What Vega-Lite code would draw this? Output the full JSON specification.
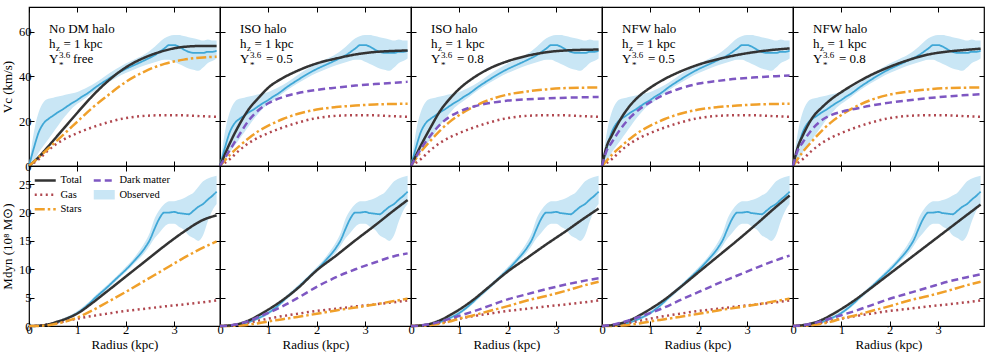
{
"$schema": "https://vega.github.io/schema/vega-lite/v6.json",
"padding": {"left": 0, "top": 5, "right": 2, "bottom": 1},
"config": {
 "font": "Liberation Serif",
 "view": {"stroke": "#000000", "strokeWidth": 1.2},
 "axis": {"domain": false, "grid": false, "tickColor": "#000000", "tickSize": -5, "tickWidth": 1, "labelFont": "Liberation Serif", "labelFontSize": 12.5, "labelColor": "#000000", "labelFlush": false, "labelOverlap": false, "titleFont": "Liberation Serif", "titleFontSize": 13, "titleFontWeight": "normal", "titleColor": "#000000"},
 "axisX": {"labelPadding": 2, "titlePadding": 3},
 "axisY": {"labelPadding": 3, "titlePadding": 4},
 "text": {"font": "Liberation Serif", "fontSize": 13, "align": "left", "baseline": "alphabetic", "color": "#000000"},
 "legend": {"orient": "none", "legendX": 11, "legendY": 168, "columns": 2, "symbolType": "stroke", "symbolSize": 441, "symbolStrokeWidth": 2.5, "labelFont": "Liberation Serif", "labelFontSize": 10.5, "labelColor": "#000000", "rowPadding": 3.5, "columnPadding": 6, "labelOffset": 10, "padding": 0}
},
"datasets": {
 "labels": [
  {"p": 1, "halo": "No DM halo", "ml": "free"},
  {"p": 2, "halo": "ISO halo", "ml": "= 0.5"},
  {"p": 3, "halo": "ISO halo", "ml": "= 0.8"},
  {"p": 4, "halo": "NFW halo", "ml": "= 0.5"},
  {"p": 5, "halo": "NFW halo", "ml": "= 0.8"}
 ],
 "obsV": [
  {"s":"Observed","r":0,"v":0,"lo":0,"hi":0},
  {"s":"Observed","r":0.1,"v":8,"lo":2,"hi":15},
  {"s":"Observed","r":0.2,"v":15,"lo":6,"hi":24},
  {"s":"Observed","r":0.3,"v":19,"lo":9,"hi":28.5},
  {"s":"Observed","r":0.4,"v":21,"lo":12,"hi":30},
  {"s":"Observed","r":0.5,"v":22.5,"lo":15,"hi":30.5},
  {"s":"Observed","r":0.6,"v":24,"lo":18,"hi":31},
  {"s":"Observed","r":0.7,"v":25.3,"lo":21,"hi":31.5},
  {"s":"Observed","r":0.8,"v":26.8,"lo":23.5,"hi":32},
  {"s":"Observed","r":0.9,"v":28.2,"lo":26,"hi":32.5},
  {"s":"Observed","r":1.0,"v":29.5,"lo":27.8,"hi":33},
  {"s":"Observed","r":1.1,"v":31,"lo":29.3,"hi":34},
  {"s":"Observed","r":1.2,"v":32.3,"lo":30.8,"hi":35},
  {"s":"Observed","r":1.4,"v":35.5,"lo":34,"hi":37.5},
  {"s":"Observed","r":1.6,"v":38.3,"lo":36.8,"hi":40.5},
  {"s":"Observed","r":1.8,"v":41,"lo":39.3,"hi":43.3},
  {"s":"Observed","r":2.0,"v":43.3,"lo":41.5,"hi":45.8},
  {"s":"Observed","r":2.2,"v":45.3,"lo":43.3,"hi":47.8},
  {"s":"Observed","r":2.4,"v":47.3,"lo":45,"hi":50},
  {"s":"Observed","r":2.6,"v":49.5,"lo":46.3,"hi":53.3},
  {"s":"Observed","r":2.8,"v":52.5,"lo":47.5,"hi":57},
  {"s":"Observed","r":2.9,"v":54,"lo":47.5,"hi":58},
  {"s":"Observed","r":3.0,"v":54,"lo":46.5,"hi":58.5},
  {"s":"Observed","r":3.1,"v":53.3,"lo":45.5,"hi":58.5},
  {"s":"Observed","r":3.2,"v":52,"lo":44.5,"hi":58},
  {"s":"Observed","r":3.3,"v":51,"lo":43.5,"hi":57.5},
  {"s":"Observed","r":3.4,"v":50.5,"lo":43,"hi":57},
  {"s":"Observed","r":3.5,"v":50.5,"lo":42.5,"hi":56.5},
  {"s":"Observed","r":3.6,"v":50.5,"lo":44,"hi":56},
  {"s":"Observed","r":3.7,"v":51,"lo":46,"hi":56.5},
  {"s":"Observed","r":3.8,"v":51,"lo":47,"hi":56},
  {"s":"Observed","r":3.88,"v":51.5,"lo":48,"hi":56}
 ],
 "obsM": [
  {"s":"Observed","r":0,"v":0,"lo":0,"hi":0},
  {"s":"Observed","r":0.2,"v":0.05,"lo":0,"hi":0.1},
  {"s":"Observed","r":0.4,"v":0.25,"lo":0.15,"hi":0.4},
  {"s":"Observed","r":0.6,"v":0.7,"lo":0.5,"hi":0.95},
  {"s":"Observed","r":0.8,"v":1.4,"lo":1.15,"hi":1.7},
  {"s":"Observed","r":1.0,"v":2.3,"lo":2.0,"hi":2.65},
  {"s":"Observed","r":1.2,"v":3.6,"lo":3.25,"hi":3.95},
  {"s":"Observed","r":1.4,"v":5.2,"lo":4.8,"hi":5.6},
  {"s":"Observed","r":1.6,"v":6.7,"lo":6.3,"hi":7.1},
  {"s":"Observed","r":1.8,"v":8.3,"lo":7.9,"hi":8.7},
  {"s":"Observed","r":2.0,"v":9.9,"lo":9.5,"hi":10.4},
  {"s":"Observed","r":2.2,"v":11.7,"lo":11.2,"hi":12.3},
  {"s":"Observed","r":2.4,"v":13.8,"lo":13,"hi":14.8},
  {"s":"Observed","r":2.5,"v":15.2,"lo":14.2,"hi":16.5},
  {"s":"Observed","r":2.6,"v":17.2,"lo":15.5,"hi":19},
  {"s":"Observed","r":2.7,"v":19,"lo":16.5,"hi":20.5},
  {"s":"Observed","r":2.8,"v":20,"lo":17.5,"hi":21.5},
  {"s":"Observed","r":2.9,"v":20,"lo":18,"hi":22},
  {"s":"Observed","r":3.0,"v":20.1,"lo":18,"hi":22},
  {"s":"Observed","r":3.1,"v":19.9,"lo":17.5,"hi":22.2},
  {"s":"Observed","r":3.2,"v":19.8,"lo":17,"hi":22.5},
  {"s":"Observed","r":3.3,"v":19.7,"lo":16,"hi":23},
  {"s":"Observed","r":3.4,"v":20.3,"lo":15.5,"hi":23.5},
  {"s":"Observed","r":3.5,"v":21,"lo":15,"hi":24.5},
  {"s":"Observed","r":3.6,"v":21.5,"lo":16,"hi":25.5},
  {"s":"Observed","r":3.7,"v":22.3,"lo":18.5,"hi":26},
  {"s":"Observed","r":3.8,"v":23,"lo":20.5,"hi":26.3},
  {"s":"Observed","r":3.88,"v":23.7,"lo":21.5,"hi":26.5}
 ],
 "vel": [
  {"p":0,"s":"Gas","r":0,"v":0},{"p":0,"s":"Gas","r":0.2,"v":3},{"p":0,"s":"Gas","r":0.4,"v":7},{"p":0,"s":"Gas","r":0.6,"v":10.3},{"p":0,"s":"Gas","r":0.8,"v":12.8},{"p":0,"s":"Gas","r":1,"v":14.7},{"p":0,"s":"Gas","r":1.3,"v":17.2},{"p":0,"s":"Gas","r":1.6,"v":19.3},{"p":0,"s":"Gas","r":2,"v":21.4},{"p":0,"s":"Gas","r":2.4,"v":22.4},{"p":0,"s":"Gas","r":2.8,"v":22.7},{"p":0,"s":"Gas","r":3.2,"v":22.6},{"p":0,"s":"Gas","r":3.6,"v":22.2},{"p":0,"s":"Gas","r":3.88,"v":22},
  {"p":1,"s":"Total","r":0,"v":0},{"p":1,"s":"Total","r":0.2,"v":4},{"p":1,"s":"Total","r":0.4,"v":8.8},{"p":1,"s":"Total","r":0.6,"v":13.8},{"p":1,"s":"Total","r":0.8,"v":18.8},{"p":1,"s":"Total","r":1,"v":23.8},{"p":1,"s":"Total","r":1.3,"v":31},{"p":1,"s":"Total","r":1.6,"v":37.3},{"p":1,"s":"Total","r":2,"v":44},{"p":1,"s":"Total","r":2.4,"v":48.5},{"p":1,"s":"Total","r":2.8,"v":51.5},{"p":1,"s":"Total","r":3.2,"v":53.2},{"p":1,"s":"Total","r":3.6,"v":53.6},{"p":1,"s":"Total","r":3.88,"v":53.6},
  {"p":1,"s":"Stars","r":0,"v":0},{"p":1,"s":"Stars","r":0.2,"v":3.8},{"p":1,"s":"Stars","r":0.4,"v":7.8},{"p":1,"s":"Stars","r":0.6,"v":11.8},{"p":1,"s":"Stars","r":0.8,"v":15.8},{"p":1,"s":"Stars","r":1,"v":19.8},{"p":1,"s":"Stars","r":1.3,"v":25.8},{"p":1,"s":"Stars","r":1.6,"v":31},{"p":1,"s":"Stars","r":2,"v":37.5},{"p":1,"s":"Stars","r":2.4,"v":42.3},{"p":1,"s":"Stars","r":2.8,"v":45.6},{"p":1,"s":"Stars","r":3.2,"v":47.5},{"p":1,"s":"Stars","r":3.6,"v":48.5},{"p":1,"s":"Stars","r":3.88,"v":48.8},
  {"p":24,"s":"Stars","r":0,"v":0},{"p":24,"s":"Stars","r":0.2,"v":4.9},{"p":24,"s":"Stars","r":0.4,"v":8.9},{"p":24,"s":"Stars","r":0.6,"v":12.5},{"p":24,"s":"Stars","r":0.8,"v":15.6},{"p":24,"s":"Stars","r":1,"v":18},{"p":24,"s":"Stars","r":1.3,"v":21},{"p":24,"s":"Stars","r":1.6,"v":23.2},{"p":24,"s":"Stars","r":2,"v":25.2},{"p":24,"s":"Stars","r":2.4,"v":26.3},{"p":24,"s":"Stars","r":2.8,"v":27},{"p":24,"s":"Stars","r":3.2,"v":27.5},{"p":24,"s":"Stars","r":3.6,"v":27.7},{"p":24,"s":"Stars","r":3.88,"v":27.8},
  {"p":35,"s":"Stars","r":0,"v":0},{"p":35,"s":"Stars","r":0.2,"v":6.2},{"p":35,"s":"Stars","r":0.4,"v":11.2},{"p":35,"s":"Stars","r":0.6,"v":15.8},{"p":35,"s":"Stars","r":0.8,"v":19.7},{"p":35,"s":"Stars","r":1,"v":22.8},{"p":35,"s":"Stars","r":1.3,"v":26.5},{"p":35,"s":"Stars","r":1.6,"v":29.4},{"p":35,"s":"Stars","r":2,"v":31.9},{"p":35,"s":"Stars","r":2.4,"v":33.3},{"p":35,"s":"Stars","r":2.8,"v":34.2},{"p":35,"s":"Stars","r":3.2,"v":34.8},{"p":35,"s":"Stars","r":3.6,"v":35},{"p":35,"s":"Stars","r":3.88,"v":35.1},
  {"p":2,"s":"Total","r":0,"v":0},{"p":2,"s":"Total","r":0.2,"v":10},{"p":2,"s":"Total","r":0.4,"v":18.5},{"p":2,"s":"Total","r":0.6,"v":25.5},{"p":2,"s":"Total","r":0.8,"v":30.5},{"p":2,"s":"Total","r":1,"v":35},{"p":2,"s":"Total","r":1.3,"v":39.3},{"p":2,"s":"Total","r":1.6,"v":42.5},{"p":2,"s":"Total","r":2,"v":45.8},{"p":2,"s":"Total","r":2.4,"v":48},{"p":2,"s":"Total","r":2.8,"v":49.8},{"p":2,"s":"Total","r":3.2,"v":50.9},{"p":2,"s":"Total","r":3.6,"v":51.4},{"p":2,"s":"Total","r":3.88,"v":51.6},
  {"p":2,"s":"Dark matter","r":0,"v":0},{"p":2,"s":"Dark matter","r":0.2,"v":7},{"p":2,"s":"Dark matter","r":0.4,"v":14},{"p":2,"s":"Dark matter","r":0.6,"v":20.5},{"p":2,"s":"Dark matter","r":0.8,"v":25},{"p":2,"s":"Dark matter","r":1,"v":28},{"p":2,"s":"Dark matter","r":1.3,"v":30.8},{"p":2,"s":"Dark matter","r":1.6,"v":32.5},{"p":2,"s":"Dark matter","r":2,"v":34},{"p":2,"s":"Dark matter","r":2.4,"v":35},{"p":2,"s":"Dark matter","r":2.8,"v":35.9},{"p":2,"s":"Dark matter","r":3.2,"v":36.6},{"p":2,"s":"Dark matter","r":3.6,"v":37.2},{"p":2,"s":"Dark matter","r":3.88,"v":37.6},
  {"p":3,"s":"Total","r":0,"v":0},{"p":3,"s":"Total","r":0.2,"v":9},{"p":3,"s":"Total","r":0.4,"v":17},{"p":3,"s":"Total","r":0.6,"v":24.5},{"p":3,"s":"Total","r":0.8,"v":30},{"p":3,"s":"Total","r":1,"v":34.5},{"p":3,"s":"Total","r":1.3,"v":39.5},{"p":3,"s":"Total","r":1.6,"v":43.3},{"p":3,"s":"Total","r":2,"v":46.8},{"p":3,"s":"Total","r":2.4,"v":49.2},{"p":3,"s":"Total","r":2.8,"v":50.8},{"p":3,"s":"Total","r":3.2,"v":51.6},{"p":3,"s":"Total","r":3.6,"v":51.9},{"p":3,"s":"Total","r":3.88,"v":52},
  {"p":3,"s":"Dark matter","r":0,"v":0},{"p":3,"s":"Dark matter","r":0.2,"v":7.5},{"p":3,"s":"Dark matter","r":0.4,"v":13.5},{"p":3,"s":"Dark matter","r":0.6,"v":18.5},{"p":3,"s":"Dark matter","r":0.8,"v":22},{"p":3,"s":"Dark matter","r":1,"v":24.3},{"p":3,"s":"Dark matter","r":1.3,"v":26.6},{"p":3,"s":"Dark matter","r":1.6,"v":28},{"p":3,"s":"Dark matter","r":2,"v":29.2},{"p":3,"s":"Dark matter","r":2.4,"v":29.8},{"p":3,"s":"Dark matter","r":2.8,"v":30.2},{"p":3,"s":"Dark matter","r":3.2,"v":30.5},{"p":3,"s":"Dark matter","r":3.6,"v":30.7},{"p":3,"s":"Dark matter","r":3.88,"v":30.8},
  {"p":4,"s":"Total","r":0,"v":0},{"p":4,"s":"Total","r":0.1,"v":9},{"p":4,"s":"Total","r":0.2,"v":13.5},{"p":4,"s":"Total","r":0.4,"v":21.5},{"p":4,"s":"Total","r":0.6,"v":27.5},{"p":4,"s":"Total","r":0.8,"v":31.8},{"p":4,"s":"Total","r":1,"v":35},{"p":4,"s":"Total","r":1.3,"v":38.9},{"p":4,"s":"Total","r":1.6,"v":42},{"p":4,"s":"Total","r":2,"v":45.3},{"p":4,"s":"Total","r":2.4,"v":47.7},{"p":4,"s":"Total","r":2.8,"v":49.6},{"p":4,"s":"Total","r":3.2,"v":51},{"p":4,"s":"Total","r":3.6,"v":52},{"p":4,"s":"Total","r":3.88,"v":52.5},
  {"p":4,"s":"Dark matter","r":0,"v":0},{"p":4,"s":"Dark matter","r":0.1,"v":7},{"p":4,"s":"Dark matter","r":0.2,"v":10.5},{"p":4,"s":"Dark matter","r":0.4,"v":17},{"p":4,"s":"Dark matter","r":0.6,"v":22},{"p":4,"s":"Dark matter","r":0.8,"v":25.8},{"p":4,"s":"Dark matter","r":1,"v":28.5},{"p":4,"s":"Dark matter","r":1.3,"v":32},{"p":4,"s":"Dark matter","r":1.6,"v":34.5},{"p":4,"s":"Dark matter","r":2,"v":36.8},{"p":4,"s":"Dark matter","r":2.4,"v":38},{"p":4,"s":"Dark matter","r":2.8,"v":39},{"p":4,"s":"Dark matter","r":3.2,"v":39.6},{"p":4,"s":"Dark matter","r":3.6,"v":40.1},{"p":4,"s":"Dark matter","r":3.88,"v":40.4},
  {"p":5,"s":"Total","r":0,"v":0},{"p":5,"s":"Total","r":0.1,"v":8.5},{"p":5,"s":"Total","r":0.2,"v":13.5},{"p":5,"s":"Total","r":0.4,"v":21.5},{"p":5,"s":"Total","r":0.6,"v":26.2},{"p":5,"s":"Total","r":0.8,"v":30},{"p":5,"s":"Total","r":1,"v":33},{"p":5,"s":"Total","r":1.3,"v":37},{"p":5,"s":"Total","r":1.6,"v":40.5},{"p":5,"s":"Total","r":2,"v":44.3},{"p":5,"s":"Total","r":2.4,"v":47.4},{"p":5,"s":"Total","r":2.8,"v":49.8},{"p":5,"s":"Total","r":3.2,"v":51.1},{"p":5,"s":"Total","r":3.6,"v":51.9},{"p":5,"s":"Total","r":3.88,"v":52.4},
  {"p":5,"s":"Dark matter","r":0,"v":0},{"p":5,"s":"Dark matter","r":0.1,"v":7},{"p":5,"s":"Dark matter","r":0.2,"v":10.5},{"p":5,"s":"Dark matter","r":0.4,"v":16.5},{"p":5,"s":"Dark matter","r":0.6,"v":20.5},{"p":5,"s":"Dark matter","r":0.8,"v":22.8},{"p":5,"s":"Dark matter","r":1,"v":24.2},{"p":5,"s":"Dark matter","r":1.3,"v":25.6},{"p":5,"s":"Dark matter","r":1.6,"v":26.9},{"p":5,"s":"Dark matter","r":2,"v":28.3},{"p":5,"s":"Dark matter","r":2.4,"v":29.4},{"p":5,"s":"Dark matter","r":2.8,"v":30.3},{"p":5,"s":"Dark matter","r":3.2,"v":31.1},{"p":5,"s":"Dark matter","r":3.6,"v":31.7},{"p":5,"s":"Dark matter","r":3.88,"v":32.1}
 ],
 "mass": [
  {"p":0,"s":"Gas","r":0,"v":0},{"p":0,"s":"Gas","r":0.2,"v":0.08},{"p":0,"s":"Gas","r":0.4,"v":0.3},{"p":0,"s":"Gas","r":0.6,"v":0.6},{"p":0,"s":"Gas","r":0.8,"v":0.95},{"p":0,"s":"Gas","r":1,"v":1.3},{"p":0,"s":"Gas","r":1.3,"v":1.75},{"p":0,"s":"Gas","r":1.6,"v":2.15},{"p":0,"s":"Gas","r":2,"v":2.65},{"p":0,"s":"Gas","r":2.4,"v":3.05},{"p":0,"s":"Gas","r":2.8,"v":3.45},{"p":0,"s":"Gas","r":3.2,"v":3.8},{"p":0,"s":"Gas","r":3.6,"v":4.2},{"p":0,"s":"Gas","r":3.88,"v":4.5},
  {"p":1,"s":"Total","r":0,"v":0},{"p":1,"s":"Total","r":0.2,"v":0.05},{"p":1,"s":"Total","r":0.4,"v":0.3},{"p":1,"s":"Total","r":0.6,"v":0.8},{"p":1,"s":"Total","r":0.8,"v":1.4},{"p":1,"s":"Total","r":1,"v":2.2},{"p":1,"s":"Total","r":1.3,"v":4},{"p":1,"s":"Total","r":1.6,"v":6},{"p":1,"s":"Total","r":2,"v":8.7},{"p":1,"s":"Total","r":2.4,"v":11.4},{"p":1,"s":"Total","r":2.8,"v":14.1},{"p":1,"s":"Total","r":3.2,"v":16.6},{"p":1,"s":"Total","r":3.6,"v":18.7},{"p":1,"s":"Total","r":3.88,"v":19.5},
  {"p":1,"s":"Stars","r":0,"v":0},{"p":1,"s":"Stars","r":0.2,"v":0.02},{"p":1,"s":"Stars","r":0.4,"v":0.15},{"p":1,"s":"Stars","r":0.6,"v":0.45},{"p":1,"s":"Stars","r":0.8,"v":0.9},{"p":1,"s":"Stars","r":1,"v":1.5},{"p":1,"s":"Stars","r":1.3,"v":2.7},{"p":1,"s":"Stars","r":1.6,"v":4.1},{"p":1,"s":"Stars","r":2,"v":6},{"p":1,"s":"Stars","r":2.4,"v":8},{"p":1,"s":"Stars","r":2.8,"v":10},{"p":1,"s":"Stars","r":3.2,"v":12},{"p":1,"s":"Stars","r":3.6,"v":13.8},{"p":1,"s":"Stars","r":3.88,"v":14.9},
  {"p":24,"s":"Stars","r":0,"v":0},{"p":24,"s":"Stars","r":0.2,"v":0.02},{"p":24,"s":"Stars","r":0.4,"v":0.1},{"p":24,"s":"Stars","r":0.6,"v":0.25},{"p":24,"s":"Stars","r":0.8,"v":0.5},{"p":24,"s":"Stars","r":1,"v":0.8},{"p":24,"s":"Stars","r":1.3,"v":1.2},{"p":24,"s":"Stars","r":1.6,"v":1.6},{"p":24,"s":"Stars","r":2,"v":2.15},{"p":24,"s":"Stars","r":2.4,"v":2.75},{"p":24,"s":"Stars","r":2.8,"v":3.25},{"p":24,"s":"Stars","r":3.2,"v":3.8},{"p":24,"s":"Stars","r":3.6,"v":4.4},{"p":24,"s":"Stars","r":3.88,"v":4.8},
  {"p":35,"s":"Stars","r":0,"v":0},{"p":35,"s":"Stars","r":0.2,"v":0.03},{"p":35,"s":"Stars","r":0.4,"v":0.16},{"p":35,"s":"Stars","r":0.6,"v":0.4},{"p":35,"s":"Stars","r":0.8,"v":0.8},{"p":35,"s":"Stars","r":1,"v":1.3},{"p":35,"s":"Stars","r":1.3,"v":1.9},{"p":35,"s":"Stars","r":1.6,"v":2.6},{"p":35,"s":"Stars","r":2,"v":3.5},{"p":35,"s":"Stars","r":2.4,"v":4.5},{"p":35,"s":"Stars","r":2.8,"v":5.3},{"p":35,"s":"Stars","r":3.2,"v":6.2},{"p":35,"s":"Stars","r":3.6,"v":7.2},{"p":35,"s":"Stars","r":3.88,"v":7.8},
  {"p":2,"s":"Total","r":0,"v":0},{"p":2,"s":"Total","r":0.2,"v":0.1},{"p":2,"s":"Total","r":0.4,"v":0.4},{"p":2,"s":"Total","r":0.6,"v":1},{"p":2,"s":"Total","r":0.8,"v":1.9},{"p":2,"s":"Total","r":1,"v":2.9},{"p":2,"s":"Total","r":1.3,"v":4.6},{"p":2,"s":"Total","r":1.6,"v":6.6},{"p":2,"s":"Total","r":2,"v":9.8},{"p":2,"s":"Total","r":2.4,"v":12.4},{"p":2,"s":"Total","r":2.8,"v":15.1},{"p":2,"s":"Total","r":3.2,"v":17.7},{"p":2,"s":"Total","r":3.6,"v":20.4},{"p":2,"s":"Total","r":3.88,"v":22.2},
  {"p":2,"s":"Dark matter","r":0,"v":0},{"p":2,"s":"Dark matter","r":0.2,"v":0.1},{"p":2,"s":"Dark matter","r":0.4,"v":0.4},{"p":2,"s":"Dark matter","r":0.6,"v":0.9},{"p":2,"s":"Dark matter","r":0.8,"v":1.6},{"p":2,"s":"Dark matter","r":1,"v":2.3},{"p":2,"s":"Dark matter","r":1.3,"v":3.5},{"p":2,"s":"Dark matter","r":1.6,"v":4.9},{"p":2,"s":"Dark matter","r":2,"v":6.9},{"p":2,"s":"Dark matter","r":2.4,"v":8.6},{"p":2,"s":"Dark matter","r":2.8,"v":10},{"p":2,"s":"Dark matter","r":3.2,"v":11.2},{"p":2,"s":"Dark matter","r":3.6,"v":12.3},{"p":2,"s":"Dark matter","r":3.88,"v":12.8},
  {"p":3,"s":"Total","r":0,"v":0},{"p":3,"s":"Total","r":0.2,"v":0.1},{"p":3,"s":"Total","r":0.4,"v":0.4},{"p":3,"s":"Total","r":0.6,"v":1},{"p":3,"s":"Total","r":0.8,"v":1.9},{"p":3,"s":"Total","r":1,"v":2.9},{"p":3,"s":"Total","r":1.3,"v":4.7},{"p":3,"s":"Total","r":1.6,"v":6.8},{"p":3,"s":"Total","r":2,"v":9.6},{"p":3,"s":"Total","r":2.4,"v":12},{"p":3,"s":"Total","r":2.8,"v":14.4},{"p":3,"s":"Total","r":3.2,"v":16.7},{"p":3,"s":"Total","r":3.6,"v":19.1},{"p":3,"s":"Total","r":3.88,"v":20.7},
  {"p":3,"s":"Dark matter","r":0,"v":0},{"p":3,"s":"Dark matter","r":0.2,"v":0.1},{"p":3,"s":"Dark matter","r":0.4,"v":0.35},{"p":3,"s":"Dark matter","r":0.6,"v":0.75},{"p":3,"s":"Dark matter","r":0.8,"v":1.25},{"p":3,"s":"Dark matter","r":1,"v":1.8},{"p":3,"s":"Dark matter","r":1.3,"v":2.6},{"p":3,"s":"Dark matter","r":1.6,"v":3.5},{"p":3,"s":"Dark matter","r":2,"v":4.7},{"p":3,"s":"Dark matter","r":2.4,"v":5.6},{"p":3,"s":"Dark matter","r":2.8,"v":6.5},{"p":3,"s":"Dark matter","r":3.2,"v":7.3},{"p":3,"s":"Dark matter","r":3.6,"v":8},{"p":3,"s":"Dark matter","r":3.88,"v":8.4},
  {"p":4,"s":"Total","r":0,"v":0},{"p":4,"s":"Total","r":0.2,"v":0.15},{"p":4,"s":"Total","r":0.4,"v":0.5},{"p":4,"s":"Total","r":0.6,"v":1.1},{"p":4,"s":"Total","r":0.8,"v":2},{"p":4,"s":"Total","r":1,"v":3},{"p":4,"s":"Total","r":1.3,"v":4.7},{"p":4,"s":"Total","r":1.6,"v":6.7},{"p":4,"s":"Total","r":2,"v":9.5},{"p":4,"s":"Total","r":2.4,"v":12.3},{"p":4,"s":"Total","r":2.8,"v":15.1},{"p":4,"s":"Total","r":3.2,"v":18},{"p":4,"s":"Total","r":3.6,"v":21},{"p":4,"s":"Total","r":3.88,"v":23},
  {"p":4,"s":"Dark matter","r":0,"v":0},{"p":4,"s":"Dark matter","r":0.2,"v":0.2},{"p":4,"s":"Dark matter","r":0.4,"v":0.6},{"p":4,"s":"Dark matter","r":0.6,"v":1.1},{"p":4,"s":"Dark matter","r":0.8,"v":1.7},{"p":4,"s":"Dark matter","r":1,"v":2.3},{"p":4,"s":"Dark matter","r":1.3,"v":3.3},{"p":4,"s":"Dark matter","r":1.6,"v":4.5},{"p":4,"s":"Dark matter","r":2,"v":6},{"p":4,"s":"Dark matter","r":2.4,"v":7.5},{"p":4,"s":"Dark matter","r":2.8,"v":8.9},{"p":4,"s":"Dark matter","r":3.2,"v":10.3},{"p":4,"s":"Dark matter","r":3.6,"v":11.6},{"p":4,"s":"Dark matter","r":3.88,"v":12.4},
  {"p":5,"s":"Total","r":0,"v":0},{"p":5,"s":"Total","r":0.2,"v":0.15},{"p":5,"s":"Total","r":0.4,"v":0.5},{"p":5,"s":"Total","r":0.6,"v":1.1},{"p":5,"s":"Total","r":0.8,"v":2},{"p":5,"s":"Total","r":1,"v":3},{"p":5,"s":"Total","r":1.3,"v":4.7},{"p":5,"s":"Total","r":1.6,"v":6.6},{"p":5,"s":"Total","r":2,"v":9.2},{"p":5,"s":"Total","r":2.4,"v":11.8},{"p":5,"s":"Total","r":2.8,"v":14.4},{"p":5,"s":"Total","r":3.2,"v":17},{"p":5,"s":"Total","r":3.6,"v":19.6},{"p":5,"s":"Total","r":3.88,"v":21.4},
  {"p":5,"s":"Dark matter","r":0,"v":0},{"p":5,"s":"Dark matter","r":0.2,"v":0.15},{"p":5,"s":"Dark matter","r":0.4,"v":0.45},{"p":5,"s":"Dark matter","r":0.6,"v":0.9},{"p":5,"s":"Dark matter","r":0.8,"v":1.4},{"p":5,"s":"Dark matter","r":1,"v":1.9},{"p":5,"s":"Dark matter","r":1.3,"v":2.7},{"p":5,"s":"Dark matter","r":1.6,"v":3.6},{"p":5,"s":"Dark matter","r":2,"v":4.8},{"p":5,"s":"Dark matter","r":2.4,"v":5.8},{"p":5,"s":"Dark matter","r":2.8,"v":6.8},{"p":5,"s":"Dark matter","r":3.2,"v":7.8},{"p":5,"s":"Dark matter","r":3.6,"v":8.6},{"p":5,"s":"Dark matter","r":3.88,"v":9.1}
 ]
},
"columns": 5,
"spacing": 0,
"bounds": "flush",
"concat": [
  {"width": 191, "height": 159, "resolve": {"axis": {"x": "independent", "y": "independent"}}, "layer": [
   {"data": {"name": "obsV"}, "mark": {"type": "area", "color": "#c9e6f5", "interpolate": "monotone"}, "encoding": {"x": {"field": "r", "type": "quantitative", "scale": {"domain": [0, 3.95], "nice": false, "zero": false}, "axis": {"orient": "bottom", "values": [0,1,2,3], "labels": false, "title": null}}, "y": {"field": "lo", "type": "quantitative", "scale": {"domain": [0, 71], "nice": false}, "axis": {"orient": "left", "values": [0,20,40,60], "title": "Vc (km/s)"}}, "y2": {"field": "hi"}}},
   {"data": {"name": "obsV"}, "mark": {"type": "line", "strokeWidth": 1.8, "interpolate": "monotone"}, "encoding": {"x": {"field": "r", "type": "quantitative", "axis": {"orient": "top", "values": [0,1,2,3], "labels": false, "title": null}}, "y": {"field": "v", "type": "quantitative", "axis": {"orient": "right", "values": [0,20,40,60], "labels": false, "title": null}}, "color": {"field": "s", "type": "nominal", "scale": {"domain": ["Total","Gas","Stars","Dark matter","Observed"], "range": ["#333333","#b0474f","#f0a02a","#7e57c2","#3fa7d6"]}, "legend": {"title": null}}, "strokeDash": {"field": "s", "type": "nominal", "scale": {"domain": ["Total","Gas","Stars","Dark matter","Observed"], "range": [[1,0],[2,3.5],[10,3,2.5,3],[7,4],[1,0]]}, "legend": {"title": null}}}},
   {"data": {"name": "vel"}, "transform": [{"filter": "datum.p == 1 || datum.p == 0"}], "mark": {"type": "line", "strokeWidth": 2.5, "interpolate": "monotone"}, "encoding": {"x": {"field": "r", "type": "quantitative", "axis": null}, "y": {"field": "v", "type": "quantitative", "axis": null}, "color": {"field": "s", "type": "nominal", "legend": {"title": null}}, "strokeDash": {"field": "s", "type": "nominal", "legend": {"title": null}}}},
   {"data": {"name": "labels"}, "transform": [{"filter": "datum.p == 1"}], "mark": {"type": "text"}, "encoding": {"x": {"datum": 0.414, "type": "quantitative", "axis": null}, "y": {"datum": 59.2, "type": "quantitative", "axis": null}, "text": {"field": "halo"}}},
   {"data": {"name": "labels"}, "transform": [{"filter": "datum.p == 1"}], "mark": {"type": "text", "text": ["h", "Υ"], "dy": 15, "lineHeight": 15}, "encoding": {"x": {"datum": 0.414, "type": "quantitative", "axis": null}, "y": {"datum": 59.2, "type": "quantitative", "axis": null}}},
   {"data": {"name": "labels"}, "transform": [{"filter": "datum.p == 1"}], "mark": {"type": "text", "text": "z", "fontSize": 9, "dx": 7, "dy": 18}, "encoding": {"x": {"datum": 0.414, "type": "quantitative", "axis": null}, "y": {"datum": 59.2, "type": "quantitative", "axis": null}}},
   {"data": {"name": "labels"}, "transform": [{"filter": "datum.p == 1"}], "mark": {"type": "text", "text": ["3.6", "*"], "fontSize": 9, "lineHeight": 10, "dx": 10, "dy": 24.5}, "encoding": {"x": {"datum": 0.414, "type": "quantitative", "axis": null}, "y": {"datum": 59.2, "type": "quantitative", "axis": null}}},
   {"data": {"name": "labels"}, "transform": [{"filter": "datum.p == 1"}], "mark": {"type": "text", "text": "= 1 kpc", "dx": 14.5, "dy": 15}, "encoding": {"x": {"datum": 0.414, "type": "quantitative", "axis": null}, "y": {"datum": 59.2, "type": "quantitative", "axis": null}}},
   {"data": {"name": "labels"}, "transform": [{"filter": "datum.p == 1"}], "mark": {"type": "text", "dx": 24, "dy": 30}, "encoding": {"x": {"datum": 0.414, "type": "quantitative", "axis": null}, "y": {"datum": 59.2, "type": "quantitative", "axis": null}, "text": {"field": "ml"}}}
  ]},
  {"width": 191, "height": 159, "resolve": {"axis": {"x": "independent", "y": "independent"}}, "layer": [
   {"data": {"name": "obsV"}, "mark": {"type": "area", "color": "#c9e6f5", "interpolate": "monotone"}, "encoding": {"x": {"field": "r", "type": "quantitative", "scale": {"domain": [0, 3.95], "nice": false, "zero": false}, "axis": {"orient": "bottom", "values": [0,1,2,3], "labels": false, "title": null}}, "y": {"field": "lo", "type": "quantitative", "scale": {"domain": [0, 71], "nice": false}, "axis": {"orient": "left", "values": [0,20,40,60], "labels": false, "title": null}}, "y2": {"field": "hi"}}},
   {"data": {"name": "obsV"}, "mark": {"type": "line", "strokeWidth": 1.8, "interpolate": "monotone"}, "encoding": {"x": {"field": "r", "type": "quantitative", "axis": {"orient": "top", "values": [0,1,2,3], "labels": false, "title": null}}, "y": {"field": "v", "type": "quantitative", "axis": {"orient": "right", "values": [0,20,40,60], "labels": false, "title": null}}, "color": {"field": "s", "type": "nominal", "legend": {"title": null}}, "strokeDash": {"field": "s", "type": "nominal", "legend": {"title": null}}}},
   {"data": {"name": "vel"}, "transform": [{"filter": "datum.p == 2 || datum.p == 0 || datum.p == 24"}], "mark": {"type": "line", "strokeWidth": 2.5, "interpolate": "monotone"}, "encoding": {"x": {"field": "r", "type": "quantitative", "axis": null}, "y": {"field": "v", "type": "quantitative", "axis": null}, "color": {"field": "s", "type": "nominal", "legend": {"title": null}}, "strokeDash": {"field": "s", "type": "nominal", "legend": {"title": null}}}},
   {"data": {"name": "labels"}, "transform": [{"filter": "datum.p == 2"}], "mark": {"type": "text"}, "encoding": {"x": {"datum": 0.414, "type": "quantitative", "axis": null}, "y": {"datum": 59.2, "type": "quantitative", "axis": null}, "text": {"field": "halo"}}},
   {"data": {"name": "labels"}, "transform": [{"filter": "datum.p == 2"}], "mark": {"type": "text", "text": ["h", "Υ"], "dy": 15, "lineHeight": 15}, "encoding": {"x": {"datum": 0.414, "type": "quantitative", "axis": null}, "y": {"datum": 59.2, "type": "quantitative", "axis": null}}},
   {"data": {"name": "labels"}, "transform": [{"filter": "datum.p == 2"}], "mark": {"type": "text", "text": "z", "fontSize": 9, "dx": 7, "dy": 18}, "encoding": {"x": {"datum": 0.414, "type": "quantitative", "axis": null}, "y": {"datum": 59.2, "type": "quantitative", "axis": null}}},
   {"data": {"name": "labels"}, "transform": [{"filter": "datum.p == 2"}], "mark": {"type": "text", "text": ["3.6", "*"], "fontSize": 9, "lineHeight": 10, "dx": 10, "dy": 24.5}, "encoding": {"x": {"datum": 0.414, "type": "quantitative", "axis": null}, "y": {"datum": 59.2, "type": "quantitative", "axis": null}}},
   {"data": {"name": "labels"}, "transform": [{"filter": "datum.p == 2"}], "mark": {"type": "text", "text": "= 1 kpc", "dx": 14.5, "dy": 15}, "encoding": {"x": {"datum": 0.414, "type": "quantitative", "axis": null}, "y": {"datum": 59.2, "type": "quantitative", "axis": null}}},
   {"data": {"name": "labels"}, "transform": [{"filter": "datum.p == 2"}], "mark": {"type": "text", "dx": 26, "dy": 30}, "encoding": {"x": {"datum": 0.414, "type": "quantitative", "axis": null}, "y": {"datum": 59.2, "type": "quantitative", "axis": null}, "text": {"field": "ml"}}}
  ]},
  {"width": 191, "height": 159, "resolve": {"axis": {"x": "independent", "y": "independent"}}, "layer": [
   {"data": {"name": "obsV"}, "mark": {"type": "area", "color": "#c9e6f5", "interpolate": "monotone"}, "encoding": {"x": {"field": "r", "type": "quantitative", "scale": {"domain": [0, 3.95], "nice": false, "zero": false}, "axis": {"orient": "bottom", "values": [0,1,2,3], "labels": false, "title": null}}, "y": {"field": "lo", "type": "quantitative", "scale": {"domain": [0, 71], "nice": false}, "axis": {"orient": "left", "values": [0,20,40,60], "labels": false, "title": null}}, "y2": {"field": "hi"}}},
   {"data": {"name": "obsV"}, "mark": {"type": "line", "strokeWidth": 1.8, "interpolate": "monotone"}, "encoding": {"x": {"field": "r", "type": "quantitative", "axis": {"orient": "top", "values": [0,1,2,3], "labels": false, "title": null}}, "y": {"field": "v", "type": "quantitative", "axis": {"orient": "right", "values": [0,20,40,60], "labels": false, "title": null}}, "color": {"field": "s", "type": "nominal", "legend": {"title": null}}, "strokeDash": {"field": "s", "type": "nominal", "legend": {"title": null}}}},
   {"data": {"name": "vel"}, "transform": [{"filter": "datum.p == 3 || datum.p == 0 || datum.p == 35"}], "mark": {"type": "line", "strokeWidth": 2.5, "interpolate": "monotone"}, "encoding": {"x": {"field": "r", "type": "quantitative", "axis": null}, "y": {"field": "v", "type": "quantitative", "axis": null}, "color": {"field": "s", "type": "nominal", "legend": {"title": null}}, "strokeDash": {"field": "s", "type": "nominal", "legend": {"title": null}}}},
   {"data": {"name": "labels"}, "transform": [{"filter": "datum.p == 3"}], "mark": {"type": "text"}, "encoding": {"x": {"datum": 0.414, "type": "quantitative", "axis": null}, "y": {"datum": 59.2, "type": "quantitative", "axis": null}, "text": {"field": "halo"}}},
   {"data": {"name": "labels"}, "transform": [{"filter": "datum.p == 3"}], "mark": {"type": "text", "text": ["h", "Υ"], "dy": 15, "lineHeight": 15}, "encoding": {"x": {"datum": 0.414, "type": "quantitative", "axis": null}, "y": {"datum": 59.2, "type": "quantitative", "axis": null}}},
   {"data": {"name": "labels"}, "transform": [{"filter": "datum.p == 3"}], "mark": {"type": "text", "text": "z", "fontSize": 9, "dx": 7, "dy": 18}, "encoding": {"x": {"datum": 0.414, "type": "quantitative", "axis": null}, "y": {"datum": 59.2, "type": "quantitative", "axis": null}}},
   {"data": {"name": "labels"}, "transform": [{"filter": "datum.p == 3"}], "mark": {"type": "text", "text": ["3.6", "*"], "fontSize": 9, "lineHeight": 10, "dx": 10, "dy": 24.5}, "encoding": {"x": {"datum": 0.414, "type": "quantitative", "axis": null}, "y": {"datum": 59.2, "type": "quantitative", "axis": null}}},
   {"data": {"name": "labels"}, "transform": [{"filter": "datum.p == 3"}], "mark": {"type": "text", "text": "= 1 kpc", "dx": 14.5, "dy": 15}, "encoding": {"x": {"datum": 0.414, "type": "quantitative", "axis": null}, "y": {"datum": 59.2, "type": "quantitative", "axis": null}}},
   {"data": {"name": "labels"}, "transform": [{"filter": "datum.p == 3"}], "mark": {"type": "text", "dx": 26, "dy": 30}, "encoding": {"x": {"datum": 0.414, "type": "quantitative", "axis": null}, "y": {"datum": 59.2, "type": "quantitative", "axis": null}, "text": {"field": "ml"}}}
  ]},
  {"width": 191, "height": 159, "resolve": {"axis": {"x": "independent", "y": "independent"}}, "layer": [
   {"data": {"name": "obsV"}, "mark": {"type": "area", "color": "#c9e6f5", "interpolate": "monotone"}, "encoding": {"x": {"field": "r", "type": "quantitative", "scale": {"domain": [0, 3.95], "nice": false, "zero": false}, "axis": {"orient": "bottom", "values": [0,1,2,3], "labels": false, "title": null}}, "y": {"field": "lo", "type": "quantitative", "scale": {"domain": [0, 71], "nice": false}, "axis": {"orient": "left", "values": [0,20,40,60], "labels": false, "title": null}}, "y2": {"field": "hi"}}},
   {"data": {"name": "obsV"}, "mark": {"type": "line", "strokeWidth": 1.8, "interpolate": "monotone"}, "encoding": {"x": {"field": "r", "type": "quantitative", "axis": {"orient": "top", "values": [0,1,2,3], "labels": false, "title": null}}, "y": {"field": "v", "type": "quantitative", "axis": {"orient": "right", "values": [0,20,40,60], "labels": false, "title": null}}, "color": {"field": "s", "type": "nominal", "legend": {"title": null}}, "strokeDash": {"field": "s", "type": "nominal", "legend": {"title": null}}}},
   {"data": {"name": "vel"}, "transform": [{"filter": "datum.p == 4 || datum.p == 0 || datum.p == 24"}], "mark": {"type": "line", "strokeWidth": 2.5, "interpolate": "monotone"}, "encoding": {"x": {"field": "r", "type": "quantitative", "axis": null}, "y": {"field": "v", "type": "quantitative", "axis": null}, "color": {"field": "s", "type": "nominal", "legend": {"title": null}}, "strokeDash": {"field": "s", "type": "nominal", "legend": {"title": null}}}},
   {"data": {"name": "labels"}, "transform": [{"filter": "datum.p == 4"}], "mark": {"type": "text"}, "encoding": {"x": {"datum": 0.414, "type": "quantitative", "axis": null}, "y": {"datum": 59.2, "type": "quantitative", "axis": null}, "text": {"field": "halo"}}},
   {"data": {"name": "labels"}, "transform": [{"filter": "datum.p == 4"}], "mark": {"type": "text", "text": ["h", "Υ"], "dy": 15, "lineHeight": 15}, "encoding": {"x": {"datum": 0.414, "type": "quantitative", "axis": null}, "y": {"datum": 59.2, "type": "quantitative", "axis": null}}},
   {"data": {"name": "labels"}, "transform": [{"filter": "datum.p == 4"}], "mark": {"type": "text", "text": "z", "fontSize": 9, "dx": 7, "dy": 18}, "encoding": {"x": {"datum": 0.414, "type": "quantitative", "axis": null}, "y": {"datum": 59.2, "type": "quantitative", "axis": null}}},
   {"data": {"name": "labels"}, "transform": [{"filter": "datum.p == 4"}], "mark": {"type": "text", "text": ["3.6", "*"], "fontSize": 9, "lineHeight": 10, "dx": 10, "dy": 24.5}, "encoding": {"x": {"datum": 0.414, "type": "quantitative", "axis": null}, "y": {"datum": 59.2, "type": "quantitative", "axis": null}}},
   {"data": {"name": "labels"}, "transform": [{"filter": "datum.p == 4"}], "mark": {"type": "text", "text": "= 1 kpc", "dx": 14.5, "dy": 15}, "encoding": {"x": {"datum": 0.414, "type": "quantitative", "axis": null}, "y": {"datum": 59.2, "type": "quantitative", "axis": null}}},
   {"data": {"name": "labels"}, "transform": [{"filter": "datum.p == 4"}], "mark": {"type": "text", "dx": 26, "dy": 30}, "encoding": {"x": {"datum": 0.414, "type": "quantitative", "axis": null}, "y": {"datum": 59.2, "type": "quantitative", "axis": null}, "text": {"field": "ml"}}}
  ]},
  {"width": 191, "height": 159, "resolve": {"axis": {"x": "independent", "y": "independent"}}, "layer": [
   {"data": {"name": "obsV"}, "mark": {"type": "area", "color": "#c9e6f5", "interpolate": "monotone"}, "encoding": {"x": {"field": "r", "type": "quantitative", "scale": {"domain": [0, 3.95], "nice": false, "zero": false}, "axis": {"orient": "bottom", "values": [0,1,2,3], "labels": false, "title": null}}, "y": {"field": "lo", "type": "quantitative", "scale": {"domain": [0, 71], "nice": false}, "axis": {"orient": "left", "values": [0,20,40,60], "labels": false, "title": null}}, "y2": {"field": "hi"}}},
   {"data": {"name": "obsV"}, "mark": {"type": "line", "strokeWidth": 1.8, "interpolate": "monotone"}, "encoding": {"x": {"field": "r", "type": "quantitative", "axis": {"orient": "top", "values": [0,1,2,3], "labels": false, "title": null}}, "y": {"field": "v", "type": "quantitative", "axis": {"orient": "right", "values": [0,20,40,60], "labels": false, "title": null}}, "color": {"field": "s", "type": "nominal", "legend": {"title": null}}, "strokeDash": {"field": "s", "type": "nominal", "legend": {"title": null}}}},
   {"data": {"name": "vel"}, "transform": [{"filter": "datum.p == 5 || datum.p == 0 || datum.p == 35"}], "mark": {"type": "line", "strokeWidth": 2.5, "interpolate": "monotone"}, "encoding": {"x": {"field": "r", "type": "quantitative", "axis": null}, "y": {"field": "v", "type": "quantitative", "axis": null}, "color": {"field": "s", "type": "nominal", "legend": {"title": null}}, "strokeDash": {"field": "s", "type": "nominal", "legend": {"title": null}}}},
   {"data": {"name": "labels"}, "transform": [{"filter": "datum.p == 5"}], "mark": {"type": "text"}, "encoding": {"x": {"datum": 0.414, "type": "quantitative", "axis": null}, "y": {"datum": 59.2, "type": "quantitative", "axis": null}, "text": {"field": "halo"}}},
   {"data": {"name": "labels"}, "transform": [{"filter": "datum.p == 5"}], "mark": {"type": "text", "text": ["h", "Υ"], "dy": 15, "lineHeight": 15}, "encoding": {"x": {"datum": 0.414, "type": "quantitative", "axis": null}, "y": {"datum": 59.2, "type": "quantitative", "axis": null}}},
   {"data": {"name": "labels"}, "transform": [{"filter": "datum.p == 5"}], "mark": {"type": "text", "text": "z", "fontSize": 9, "dx": 7, "dy": 18}, "encoding": {"x": {"datum": 0.414, "type": "quantitative", "axis": null}, "y": {"datum": 59.2, "type": "quantitative", "axis": null}}},
   {"data": {"name": "labels"}, "transform": [{"filter": "datum.p == 5"}], "mark": {"type": "text", "text": ["3.6", "*"], "fontSize": 9, "lineHeight": 10, "dx": 10, "dy": 24.5}, "encoding": {"x": {"datum": 0.414, "type": "quantitative", "axis": null}, "y": {"datum": 59.2, "type": "quantitative", "axis": null}}},
   {"data": {"name": "labels"}, "transform": [{"filter": "datum.p == 5"}], "mark": {"type": "text", "text": "= 1 kpc", "dx": 14.5, "dy": 15}, "encoding": {"x": {"datum": 0.414, "type": "quantitative", "axis": null}, "y": {"datum": 59.2, "type": "quantitative", "axis": null}}},
   {"data": {"name": "labels"}, "transform": [{"filter": "datum.p == 5"}], "mark": {"type": "text", "dx": 26, "dy": 30}, "encoding": {"x": {"datum": 0.414, "type": "quantitative", "axis": null}, "y": {"datum": 59.2, "type": "quantitative", "axis": null}, "text": {"field": "ml"}}}
  ]},
  {"width": 191, "height": 160, "resolve": {"axis": {"x": "independent", "y": "independent"}}, "layer": [
   {"data": {"name": "obsM"}, "mark": {"type": "area", "color": "#c9e6f5", "interpolate": "monotone"}, "encoding": {"x": {"field": "r", "type": "quantitative", "scale": {"domain": [0, 3.95], "nice": false, "zero": false}, "axis": {"orient": "bottom", "values": [0,1,2,3], "title": "Radius (kpc)"}}, "y": {"field": "lo", "type": "quantitative", "scale": {"domain": [0, 28.2], "nice": false}, "axis": {"orient": "left", "values": [0,5,10,15,20,25], "title": "Mdyn (10⁸ M⊙)"}}, "y2": {"field": "hi"}}},
   {"data": {"name": "obsM"}, "mark": {"type": "line", "strokeWidth": 1.8, "interpolate": "monotone"}, "encoding": {"x": {"field": "r", "type": "quantitative", "axis": {"orient": "top", "values": [0,1,2,3], "labels": false, "title": null}}, "y": {"field": "v", "type": "quantitative", "axis": {"orient": "right", "values": [0,5,10,15,20,25], "labels": false, "title": null}}, "color": {"field": "s", "type": "nominal", "legend": {"title": null}}, "strokeDash": {"field": "s", "type": "nominal", "legend": {"title": null}}}},
   {"data": {"name": "mass"}, "transform": [{"filter": "datum.p == 1 || datum.p == 0"}], "mark": {"type": "line", "strokeWidth": 2.5, "interpolate": "monotone"}, "encoding": {"x": {"field": "r", "type": "quantitative", "axis": null}, "y": {"field": "v", "type": "quantitative", "axis": null}, "color": {"field": "s", "type": "nominal", "legend": {"title": null, "encode": {"symbols": {"update": {"shape": {"signal": "datum.value === 'Observed' ? 'M-1,-0.45L1,-0.45L1,0.45L-1,0.45Z' : 'stroke'"}, "fill": {"signal": "datum.value === 'Observed' ? '#c9e6f5' : 'transparent'"}, "strokeWidth": {"signal": "datum.value === 'Observed' ? 0 : 2.5"}}}}}}, "strokeDash": {"field": "s", "type": "nominal", "legend": {"title": null}}}}
  ]},
  {"width": 191, "height": 160, "resolve": {"axis": {"x": "independent", "y": "independent"}}, "layer": [
   {"data": {"name": "obsM"}, "mark": {"type": "area", "color": "#c9e6f5", "interpolate": "monotone"}, "encoding": {"x": {"field": "r", "type": "quantitative", "scale": {"domain": [0, 3.95], "nice": false, "zero": false}, "axis": {"orient": "bottom", "values": [0,1,2,3], "title": "Radius (kpc)"}}, "y": {"field": "lo", "type": "quantitative", "scale": {"domain": [0, 28.2], "nice": false}, "axis": {"orient": "left", "values": [0,5,10,15,20,25], "labels": false, "title": null}}, "y2": {"field": "hi"}}},
   {"data": {"name": "obsM"}, "mark": {"type": "line", "strokeWidth": 1.8, "interpolate": "monotone"}, "encoding": {"x": {"field": "r", "type": "quantitative", "axis": {"orient": "top", "values": [0,1,2,3], "labels": false, "title": null}}, "y": {"field": "v", "type": "quantitative", "axis": {"orient": "right", "values": [0,5,10,15,20,25], "labels": false, "title": null}}, "color": {"field": "s", "type": "nominal", "legend": {"title": null}}, "strokeDash": {"field": "s", "type": "nominal", "legend": {"title": null}}}},
   {"data": {"name": "mass"}, "transform": [{"filter": "datum.p == 2 || datum.p == 0 || datum.p == 24"}], "mark": {"type": "line", "strokeWidth": 2.5, "interpolate": "monotone"}, "encoding": {"x": {"field": "r", "type": "quantitative", "axis": null}, "y": {"field": "v", "type": "quantitative", "axis": null}, "color": {"field": "s", "type": "nominal", "legend": {"title": null}}, "strokeDash": {"field": "s", "type": "nominal", "legend": {"title": null}}}}
  ]},
  {"width": 191, "height": 160, "resolve": {"axis": {"x": "independent", "y": "independent"}}, "layer": [
   {"data": {"name": "obsM"}, "mark": {"type": "area", "color": "#c9e6f5", "interpolate": "monotone"}, "encoding": {"x": {"field": "r", "type": "quantitative", "scale": {"domain": [0, 3.95], "nice": false, "zero": false}, "axis": {"orient": "bottom", "values": [0,1,2,3], "title": "Radius (kpc)"}}, "y": {"field": "lo", "type": "quantitative", "scale": {"domain": [0, 28.2], "nice": false}, "axis": {"orient": "left", "values": [0,5,10,15,20,25], "labels": false, "title": null}}, "y2": {"field": "hi"}}},
   {"data": {"name": "obsM"}, "mark": {"type": "line", "strokeWidth": 1.8, "interpolate": "monotone"}, "encoding": {"x": {"field": "r", "type": "quantitative", "axis": {"orient": "top", "values": [0,1,2,3], "labels": false, "title": null}}, "y": {"field": "v", "type": "quantitative", "axis": {"orient": "right", "values": [0,5,10,15,20,25], "labels": false, "title": null}}, "color": {"field": "s", "type": "nominal", "legend": {"title": null}}, "strokeDash": {"field": "s", "type": "nominal", "legend": {"title": null}}}},
   {"data": {"name": "mass"}, "transform": [{"filter": "datum.p == 3 || datum.p == 0 || datum.p == 35"}], "mark": {"type": "line", "strokeWidth": 2.5, "interpolate": "monotone"}, "encoding": {"x": {"field": "r", "type": "quantitative", "axis": null}, "y": {"field": "v", "type": "quantitative", "axis": null}, "color": {"field": "s", "type": "nominal", "legend": {"title": null}}, "strokeDash": {"field": "s", "type": "nominal", "legend": {"title": null}}}}
  ]},
  {"width": 191, "height": 160, "resolve": {"axis": {"x": "independent", "y": "independent"}}, "layer": [
   {"data": {"name": "obsM"}, "mark": {"type": "area", "color": "#c9e6f5", "interpolate": "monotone"}, "encoding": {"x": {"field": "r", "type": "quantitative", "scale": {"domain": [0, 3.95], "nice": false, "zero": false}, "axis": {"orient": "bottom", "values": [0,1,2,3], "title": "Radius (kpc)"}}, "y": {"field": "lo", "type": "quantitative", "scale": {"domain": [0, 28.2], "nice": false}, "axis": {"orient": "left", "values": [0,5,10,15,20,25], "labels": false, "title": null}}, "y2": {"field": "hi"}}},
   {"data": {"name": "obsM"}, "mark": {"type": "line", "strokeWidth": 1.8, "interpolate": "monotone"}, "encoding": {"x": {"field": "r", "type": "quantitative", "axis": {"orient": "top", "values": [0,1,2,3], "labels": false, "title": null}}, "y": {"field": "v", "type": "quantitative", "axis": {"orient": "right", "values": [0,5,10,15,20,25], "labels": false, "title": null}}, "color": {"field": "s", "type": "nominal", "legend": {"title": null}}, "strokeDash": {"field": "s", "type": "nominal", "legend": {"title": null}}}},
   {"data": {"name": "mass"}, "transform": [{"filter": "datum.p == 4 || datum.p == 0 || datum.p == 24"}], "mark": {"type": "line", "strokeWidth": 2.5, "interpolate": "monotone"}, "encoding": {"x": {"field": "r", "type": "quantitative", "axis": null}, "y": {"field": "v", "type": "quantitative", "axis": null}, "color": {"field": "s", "type": "nominal", "legend": {"title": null}}, "strokeDash": {"field": "s", "type": "nominal", "legend": {"title": null}}}}
  ]},
  {"width": 191, "height": 160, "resolve": {"axis": {"x": "independent", "y": "independent"}}, "layer": [
   {"data": {"name": "obsM"}, "mark": {"type": "area", "color": "#c9e6f5", "interpolate": "monotone"}, "encoding": {"x": {"field": "r", "type": "quantitative", "scale": {"domain": [0, 3.95], "nice": false, "zero": false}, "axis": {"orient": "bottom", "values": [0,1,2,3], "title": "Radius (kpc)"}}, "y": {"field": "lo", "type": "quantitative", "scale": {"domain": [0, 28.2], "nice": false}, "axis": {"orient": "left", "values": [0,5,10,15,20,25], "labels": false, "title": null}}, "y2": {"field": "hi"}}},
   {"data": {"name": "obsM"}, "mark": {"type": "line", "strokeWidth": 1.8, "interpolate": "monotone"}, "encoding": {"x": {"field": "r", "type": "quantitative", "axis": {"orient": "top", "values": [0,1,2,3], "labels": false, "title": null}}, "y": {"field": "v", "type": "quantitative", "axis": {"orient": "right", "values": [0,5,10,15,20,25], "labels": false, "title": null}}, "color": {"field": "s", "type": "nominal", "legend": {"title": null}}, "strokeDash": {"field": "s", "type": "nominal", "legend": {"title": null}}}},
   {"data": {"name": "mass"}, "transform": [{"filter": "datum.p == 5 || datum.p == 0 || datum.p == 35"}], "mark": {"type": "line", "strokeWidth": 2.5, "interpolate": "monotone"}, "encoding": {"x": {"field": "r", "type": "quantitative", "axis": null}, "y": {"field": "v", "type": "quantitative", "axis": null}, "color": {"field": "s", "type": "nominal", "legend": {"title": null}}, "strokeDash": {"field": "s", "type": "nominal", "legend": {"title": null}}}}
  ]}
]
}
